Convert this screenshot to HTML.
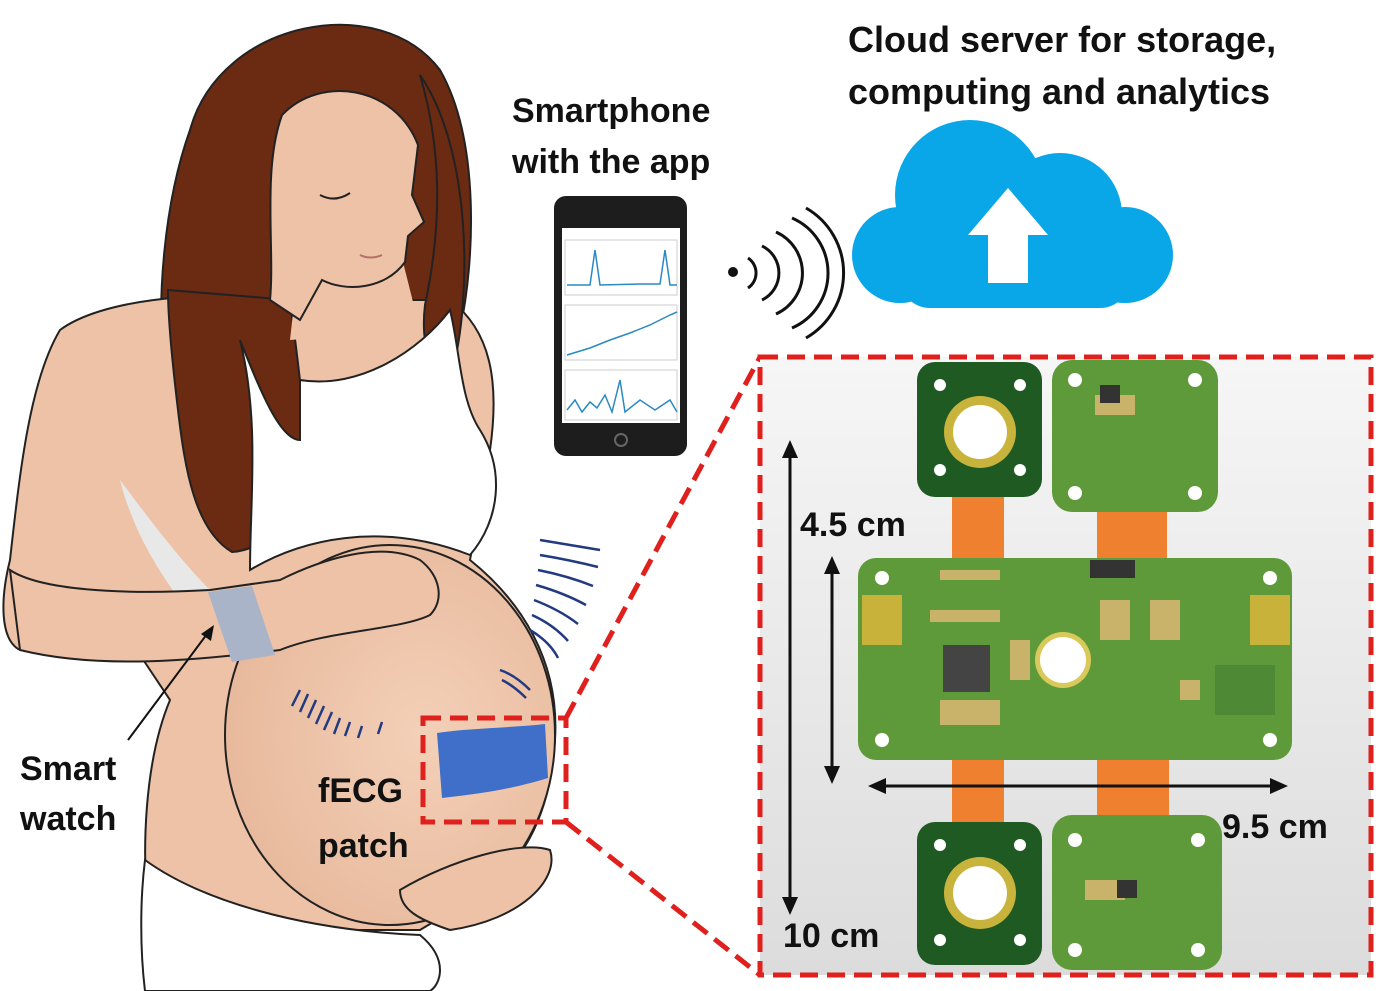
<!DOCTYPE html>
<html><head><meta charset="utf-8"><style>
html,body{margin:0;padding:0;background:#fff;}
svg{display:block;}
text{font-family:"Liberation Sans",sans-serif;font-weight:bold;fill:#111;}
</style></head><body>
<svg width="1379" height="991" viewBox="0 0 1379 991" xmlns="http://www.w3.org/2000/svg">
<defs>
<linearGradient id="bg" x1="0" y1="0" x2="0" y2="1"><stop offset="0" stop-color="#f6f6f6"/><stop offset="1" stop-color="#dcdcdc"/></linearGradient>
<radialGradient id="bel" cx="0.6" cy="0.5" r="0.6"><stop offset="0" stop-color="#f3d0b8"/><stop offset="1" stop-color="#e8b99c"/></radialGradient>
</defs>
<path d="M190,130 C220,20 380,-10 440,70 C480,140 475,260 460,330 C445,380 420,390 400,380 L330,320 L300,450 C290,510 260,560 210,550 C170,520 175,450 165,380 C155,300 165,200 190,130Z" fill="#6b2a12" stroke="#222" stroke-width="2"/>
<path d="M60,330 C100,300 200,290 270,300 L450,300 C490,330 500,380 490,450 L470,560 C520,600 560,660 555,740 C550,820 520,870 470,900 L420,930 L150,930 C140,850 145,760 170,700 L130,640 L20,650 C0,640 0,600 10,560 C20,470 30,380 60,330Z" fill="#edc2a6" stroke="#222" stroke-width="2"/>
<ellipse cx="390" cy="735" rx="165" ry="190" fill="url(#bel)" stroke="#222" stroke-width="2"/>
<!-- hair falling over shoulder -->
<path d="M168,290 L290,300 C300,380 310,440 300,480 C290,520 265,550 232,552 C195,530 185,470 178,410 C172,360 168,320 168,290Z" fill="#6b2a12" stroke="#222" stroke-width="2"/>
<path d="M300,250 L400,250 L420,330 L290,340Z" fill="#edc2a6"/>
<path d="M282,115 C320,75 395,85 418,145 L412,195 L424,222 L408,236 L405,262 C385,290 345,292 322,280 L300,320 L270,300 C275,250 262,170 282,115Z" fill="#edc2a6" stroke="#222" stroke-width="2"/>
<path d="M320,195 q15,8 30,-2" stroke="#222" stroke-width="2" fill="none"/>
<path d="M360,255 q10,5 22,0" stroke="#b5706a" stroke-width="2" fill="none"/>
<path d="M420,75 C472,150 472,300 452,372 C432,385 420,345 425,305 C442,225 442,150 420,75Z" fill="#6b2a12" stroke="#222" stroke-width="2"/>
<path d="M240,340 C260,420 250,500 250,570 C300,540 380,520 470,555 C500,520 505,470 480,430 C460,400 460,350 450,310 C420,350 360,390 300,380 L300,440 C280,440 260,390 240,340Z" fill="#fff" stroke="#222" stroke-width="2"/>
<path d="M120,480 C150,520 180,560 210,590 L180,600 C150,560 130,520 120,480Z" fill="#e8e8e8"/>
<path d="M10,570 C40,590 120,595 210,590 L280,580 C320,560 380,540 420,560 C440,575 445,600 430,615 C400,630 330,630 280,650 C200,660 100,670 20,650Z" fill="#edc2a6" stroke="#222" stroke-width="2"/>
<path d="M208,592 L252,586 L275,655 L232,662Z" fill="#a9b4c9"/>
<path d="M400,890 C450,860 520,840 550,850 C560,880 520,920 450,930 C420,920 400,910 400,890Z" fill="#edc2a6" stroke="#222" stroke-width="2"/>
<path d="M145,860 C200,900 300,930 420,935 C450,960 440,985 430,991 L145,991 C140,950 140,900 145,860Z" fill="#fff" stroke="#222" stroke-width="2"/>
<g stroke="#223a80" stroke-width="2.5" fill="none">
<path d="M540,540 q30,5 60,10"/><path d="M540,555 q30,5 58,12"/><path d="M538,570 q30,6 55,16"/><path d="M536,585 q28,8 50,20"/><path d="M534,600 q26,10 44,24"/><path d="M532,615 q22,10 36,26"/><path d="M530,630 q20,12 28,28"/><path d="M500,670 q15,5 30,20"/><path d="M502,680 q12,6 24,18"/>
<path d="M300,690 l-8,16"/><path d="M308,694 l-8,18"/><path d="M316,700 l-8,18"/><path d="M324,706 l-8,18"/><path d="M332,712 l-8,18"/><path d="M340,718 l-6,16"/><path d="M350,722 l-5,14"/><path d="M362,726 l-4,12"/><path d="M382,722 l-4,12"/>
</g>
<path d="M437,733 C470,728 510,728 545,724 L548,778 C510,790 470,795 442,798 Z" fill="#3f6fc8"/>
<line x1="128" y1="740" x2="210" y2="630" stroke="#111" stroke-width="2"/>
<path d="M214,625 l-3,16 l-10,-7z" fill="#111"/>
<text x="20" y="780" font-size="34">Smart</text>
<text x="20" y="830" font-size="34">watch</text>
<text x="318" y="802" font-size="34">fECG</text>
<text x="318" y="857" font-size="34">patch</text>
<g stroke="#e0201c" stroke-width="5" fill="none" stroke-dasharray="18,9">
<rect x="423" y="718" width="143" height="104"/>
<line x1="566" y1="718" x2="760" y2="357"/>
<line x1="566" y1="822" x2="760" y2="975"/>
<rect x="760" y="357" width="611" height="618" fill="url(#bg)"/>
</g>
<text x="512" y="122" font-size="34">Smartphone</text>
<text x="512" y="173" font-size="34">with the app</text>
<rect x="554" y="196" width="133" height="260" rx="12" fill="#1d1d1d"/>
<rect x="562" y="228" width="118" height="195" fill="#fff"/>
<g stroke="#ccc" fill="none"><rect x="565" y="240" width="112" height="55"/><rect x="565" y="305" width="112" height="55"/><rect x="565" y="370" width="112" height="50"/></g>
<g stroke="#2a8ac0" stroke-width="1.5" fill="none">
<path d="M567,285 L590,285 L595,250 L600,285 L640,284 L660,284 L665,250 L670,285 L677,285"/>
<path d="M567,355 L590,348 L610,340 L630,333 L650,325 L670,315 L677,312"/>
<path d="M567,410 L575,400 L582,412 L590,402 L597,408 L605,395 L612,412 L620,380 L625,412 L640,400 L655,410 L670,400 L677,412"/>
</g>
<circle cx="621" cy="440" r="6" fill="none" stroke="#666" stroke-width="2"/>
<circle cx="733" cy="272" r="5" fill="#111"/>
<g stroke="#111" stroke-width="3" fill="none">
<path d="M748,258 a18,18 0 0 1 0,30"/><path d="M762,246 a30,30 0 0 1 0,54"/><path d="M776,232 a45,45 0 0 1 0,82"/><path d="M792,218 a60,60 0 0 1 0,110"/><path d="M806,208 a75,75 0 0 1 0,130"/>
</g>
<text x="848" y="52" font-size="36">Cloud server for storage,</text>
<text x="848" y="104" font-size="36">computing and analytics</text>
<g fill="#0aa7e8">
<circle cx="970" cy="195" r="75"/><circle cx="1060" cy="215" r="62"/><circle cx="1125" cy="255" r="48"/><circle cx="900" cy="255" r="48"/>
<rect x="900" y="230" width="230" height="78" rx="30"/>
</g>
<path d="M1008,188 L1048,235 L1028,235 L1028,283 L988,283 L988,235 L968,235Z" fill="#fff"/>
<g>
<rect x="952" y="495" width="52" height="70" fill="#ef8030"/>
<rect x="1097" y="510" width="70" height="55" fill="#ef8030"/>
<rect x="952" y="755" width="52" height="70" fill="#ef8030"/>
<rect x="1097" y="755" width="72" height="65" fill="#ef8030"/>
<rect x="917" y="362" width="125" height="135" rx="18" fill="#1f5a22"/>
<circle cx="980" cy="432" r="36" fill="#c8b43c"/><circle cx="980" cy="432" r="27" fill="#fff"/>
<rect x="917" y="822" width="125" height="143" rx="18" fill="#1f5a22"/>
<circle cx="980" cy="893" r="36" fill="#c8b43c"/><circle cx="980" cy="893" r="27" fill="#fff"/>
<rect x="1052" y="360" width="166" height="152" rx="20" fill="#5f9a3a"/>
<rect x="1052" y="815" width="170" height="155" rx="20" fill="#5f9a3a"/>
<rect x="858" y="558" width="434" height="202" rx="18" fill="#5f9a3a"/>
<rect x="862" y="595" width="40" height="50" fill="#c9b23a"/><rect x="1250" y="595" width="40" height="50" fill="#c9b23a"/>
<circle cx="1063" cy="660" r="28" fill="#d9c95a"/><circle cx="1063" cy="660" r="23" fill="#fff"/>
<rect x="943" y="645" width="47" height="47" fill="#444"/>
<rect x="1090" y="560" width="45" height="18" fill="#333"/>
<rect x="1215" y="665" width="60" height="50" fill="#4e8a36"/>
<g fill="#fff"><circle cx="940" cy="385" r="6"/><circle cx="1020" cy="385" r="6"/><circle cx="940" cy="470" r="6"/><circle cx="1020" cy="470" r="6"/>
<circle cx="940" cy="845" r="6"/><circle cx="1020" cy="845" r="6"/><circle cx="940" cy="940" r="6"/><circle cx="1020" cy="940" r="6"/>
<circle cx="1075" cy="380" r="7"/><circle cx="1195" cy="380" r="7"/><circle cx="1075" cy="493" r="7"/><circle cx="1195" cy="493" r="7"/>
<circle cx="1075" cy="840" r="7"/><circle cx="1198" cy="840" r="7"/><circle cx="1075" cy="950" r="7"/><circle cx="1198" cy="950" r="7"/>
<circle cx="882" cy="578" r="7"/><circle cx="1270" cy="578" r="7"/><circle cx="882" cy="740" r="7"/><circle cx="1270" cy="740" r="7"/></g>
<g fill="#c9b26a"><rect x="940" y="570" width="60" height="10"/><rect x="930" y="610" width="70" height="12"/><rect x="1010" y="640" width="20" height="40"/><rect x="1100" y="600" width="30" height="40"/><rect x="1150" y="600" width="30" height="40"/><rect x="940" y="700" width="60" height="25"/><rect x="1180" y="680" width="20" height="20"/><rect x="1095" y="395" width="40" height="20"/><rect x="1085" y="880" width="40" height="20"/></g>
<rect x="1100" y="385" width="20" height="18" fill="#333"/><rect x="1117" y="880" width="20" height="18" fill="#333"/>
</g>
<g stroke="#111" stroke-width="3">
<line x1="790" y1="455" x2="790" y2="900"/><line x1="832" y1="570" x2="832" y2="770"/><line x1="882" y1="786" x2="1275" y2="786"/>
</g>
<g fill="#111">
<path d="M790,440 l-8,18 h16z"/><path d="M790,915 l-8,-18 h16z"/><path d="M832,556 l-8,18 h16z"/><path d="M832,784 l-8,-18 h16z"/><path d="M868,786 l18,-8 v16z"/><path d="M1288,786 l-18,-8 v16z"/>
</g>
<text x="800" y="536" font-size="34">4.5 cm</text>
<text x="1222" y="838" font-size="34">9.5 cm</text>
<text x="783" y="947" font-size="34">10 cm</text>
</svg>
</body></html>
